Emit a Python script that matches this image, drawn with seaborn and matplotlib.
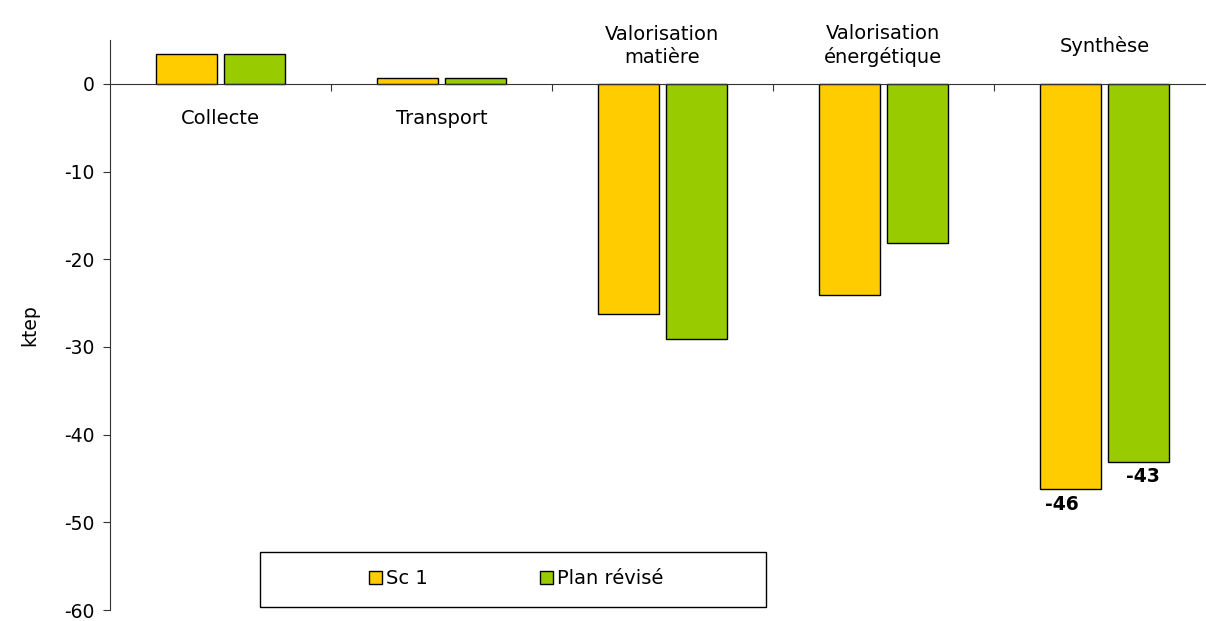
import matplotlib
matplotlib.use("Agg")
import matplotlib.pyplot as plt
import pandas as pd
import seaborn as sns
from matplotlib.patches import Rectangle

# data (ktep)
categories = ["Collecte", "Transport", "Valorisation\nmatière",
              "Valorisation\nénergétique", "Synthèse"]
series = ["Sc 1", "Plan révisé"]
sc1 = [3.4, 0.65, -26.2, -24.1, -46.25]
plan_revise = [3.4, 0.65, -29.1, -18.1, -43.15]
end_labels = {"Synthèse": ("-46", "-43")}
yticks = [0, -10, -20, -30, -40, -50, -60]

COLORS = {"Sc 1": "#FFCC00", "Plan révisé": "#99CC00"}

sns.set_style("white")
plt.rcParams["font.family"] = ["DejaVu Sans"]
plt.rcParams["axes.unicode_minus"] = False
for key in ("text.color", "axes.labelcolor", "xtick.color", "ytick.color"):
    plt.rcParams[key] = "black"

df = pd.DataFrame({
    "cat": categories * 2,
    "serie": [series[0]] * len(categories) + [series[1]] * len(categories),
    "val": sc1 + plan_revise,
})

fig = plt.figure(figsize=(12.06, 6.21), dpi=100)
ax = fig.add_axes([110 / 1206, 1 - 610 / 621, 1096 / 1206, 570 / 621])

sns.barplot(data=df, x="cat", y="val", hue="serie", order=categories,
            hue_order=series, palette=COLORS, saturation=1, width=0.615,
            gap=0.1, errorbar=None, edgecolor="black", linewidth=1.0, ax=ax,
            legend=False)

ax.set_xlim(-0.5, 4.46)
ax.set_ylim(-60, 5)
ax.set_xlabel("")
ax.set_ylabel("ktep", fontsize=13.5, labelpad=18)

# zero line with separator ticks between groups
for side in ("top", "right"):
    ax.spines[side].set_visible(False)
ax.spines["bottom"].set_position(("data", 0))
ax.spines["bottom"].set_color("#333333")
ax.spines["left"].set_color("#333333")
ax.set_xticks([i + 0.5 for i in range(len(categories) - 1)])
ax.set_xticklabels([])
ax.tick_params(axis="x", bottom=True, direction="out", length=5,
               color="#333333")
ax.set_yticks(yticks)
ax.set_yticklabels([str(t) for t in yticks], fontsize=13.5)
ax.tick_params(axis="y", left=True, direction="out", length=5,
               color="#333333", pad=6)

# category labels: above the zero line for negative groups, below otherwise
for i, cat in enumerate(categories):
    neg = min(sc1[i], plan_revise[i]) < 0
    ax.text(i, 4.35 if neg else -4.0, cat, ha="center", va="center",
            fontsize=14, multialignment="center", linespacing=1.25)

# bold values under the Synthèse bars
for k, bars in enumerate(ax.containers):
    for i, cat in enumerate(categories):
        if cat in end_labels:
            b = bars[i]
            x = b.get_x() + b.get_width() / 2
            y = min(b.get_y(), b.get_y() + b.get_height())
            ax.text(x - (0.04 if k == 0 else -0.02), y - 0.6,
                    end_labels[cat][k], ha="center", va="top",
                    fontsize=13.5, fontweight="bold")

# legend in a rectangular box
handles = [Rectangle((0, 0), 1, 1, facecolor=COLORS[s], edgecolor="black",
                     linewidth=1.0) for s in series]
box = Rectangle((260 / 1206, 1 - 607 / 621), 506 / 1206, 55 / 621,
                transform=fig.transFigure, facecolor="white",
                edgecolor="black", linewidth=1.0, zorder=4)
fig.add_artist(box)
leg = fig.legend(handles, series, loc="center", ncol=2, frameon=False,
                 bbox_to_anchor=(516 / 1206, 1 - 579 / 621), fontsize=14,
                 handlelength=0.65, handleheight=0.65, handletextpad=0.2,
                 columnspacing=5.8)
leg.set_zorder(5)

fig.savefig("out.png", dpi=100)
plt.close(fig)
